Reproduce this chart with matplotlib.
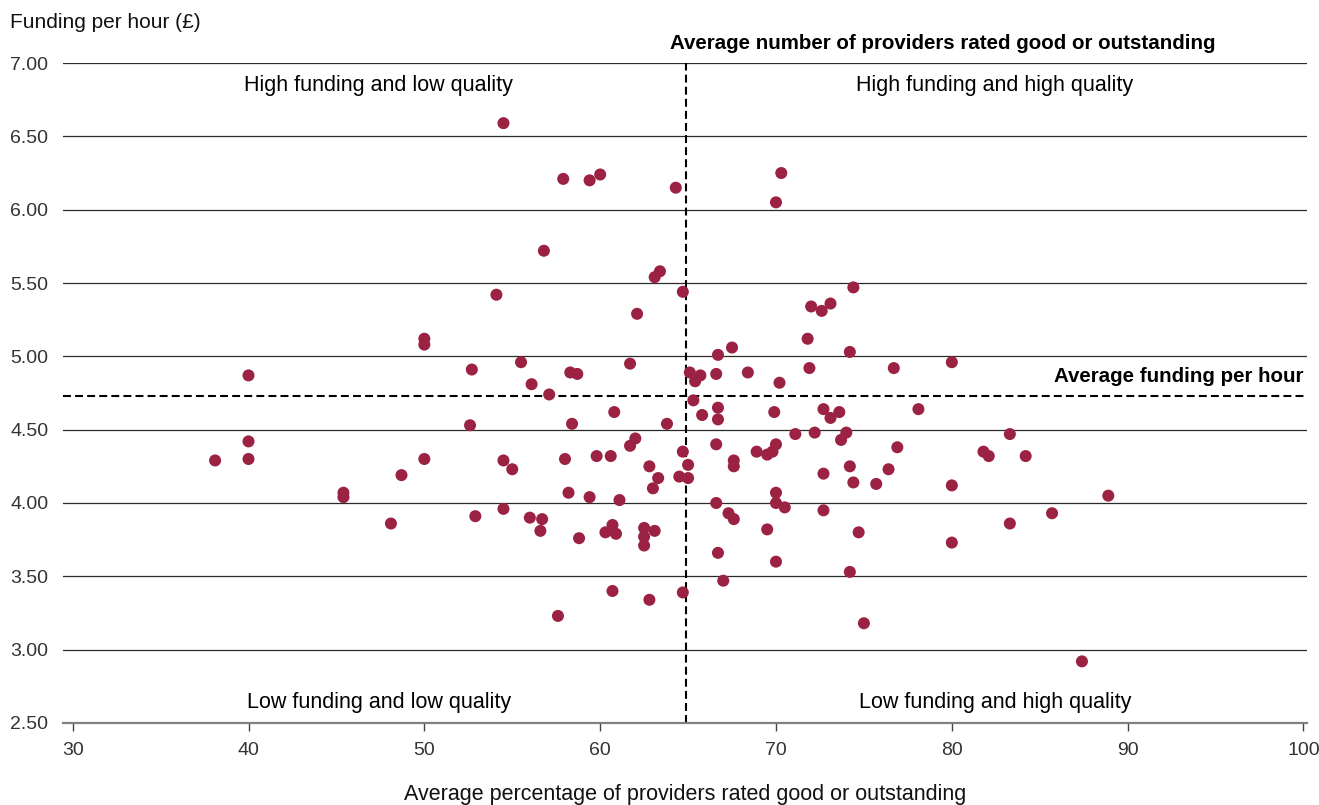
import matplotlib
matplotlib.use("Agg")
import matplotlib.pyplot as plt

plt.rcParams["font.family"] = ["Liberation Sans", "DejaVu Sans"]

# % of providers rated good or outstanding, funding per hour (GBP)
quality = [
    54.5, 57.9, 56.8, 54.1, 50.0, 50.0, 40.0, 52.7, 55.5, 56.1,
    57.1, 58.3, 58.7, 59.4, 60.0, 64.3, 70.3, 70.0, 63.1, 63.4,
    64.7, 62.1, 74.4, 72.0, 72.6, 73.1, 71.8, 74.2, 67.5, 66.7,
    61.7, 65.1, 65.7, 65.4, 66.6, 68.4, 70.2, 71.9, 76.7, 80.0,
    65.3, 60.8, 58.4, 63.8, 65.8, 66.7, 66.7, 69.9, 72.7, 73.1,
    73.6, 78.1, 62.0, 61.7, 58.0, 59.8, 60.6, 62.8, 63.3, 63.0,
    64.7, 65.0, 64.5, 65.0, 66.6, 67.6, 67.6, 68.9, 69.5, 69.8,
    70.0, 71.1, 72.2, 74.0, 73.7, 76.9, 76.4, 74.2, 74.4, 75.7,
    72.7, 80.0, 58.2, 59.4, 61.1, 70.0, 70.0, 70.5, 66.6, 67.3,
    67.6, 72.7, 69.5, 74.7, 80.0, 60.3, 60.7, 60.9, 62.5, 62.5,
    62.5, 63.1, 58.8, 66.7, 70.0, 74.2, 67.0, 60.7, 62.8, 64.7,
    57.6, 75.0, 52.6, 40.0, 38.1, 40.0, 50.0, 48.7, 54.5, 55.0,
    45.4, 45.4, 48.1, 52.9, 54.5, 56.0, 56.7, 56.6, 83.3, 81.8,
    82.1, 84.2, 88.9, 85.7, 83.3, 87.4,
]
funding = [
    6.59, 6.21, 5.72, 5.42, 5.12, 5.08, 4.87, 4.91, 4.96, 4.81,
    4.74, 4.89, 4.88, 6.20, 6.24, 6.15, 6.25, 6.05, 5.54, 5.58,
    5.44, 5.29, 5.47, 5.34, 5.31, 5.36, 5.12, 5.03, 5.06, 5.01,
    4.95, 4.89, 4.87, 4.83, 4.88, 4.89, 4.82, 4.92, 4.92, 4.96,
    4.70, 4.62, 4.54, 4.54, 4.60, 4.65, 4.57, 4.62, 4.64, 4.58,
    4.62, 4.64, 4.44, 4.39, 4.30, 4.32, 4.32, 4.25, 4.17, 4.10,
    4.35, 4.26, 4.18, 4.17, 4.40, 4.29, 4.25, 4.35, 4.33, 4.35,
    4.40, 4.47, 4.48, 4.48, 4.43, 4.38, 4.23, 4.25, 4.14, 4.13,
    4.20, 4.12, 4.07, 4.04, 4.02, 4.07, 4.00, 3.97, 4.00, 3.93,
    3.89, 3.95, 3.82, 3.80, 3.73, 3.80, 3.85, 3.79, 3.83, 3.77,
    3.71, 3.81, 3.76, 3.66, 3.60, 3.53, 3.47, 3.40, 3.34, 3.39,
    3.23, 3.18, 4.53, 4.42, 4.29, 4.30, 4.30, 4.19, 4.29, 4.23,
    4.07, 4.04, 3.86, 3.91, 3.96, 3.90, 3.89, 3.81, 4.47, 4.35,
    4.32, 4.32, 4.05, 3.93, 3.86, 2.92,
]

avg_quality = 64.9
avg_funding = 4.73

x_ticks = [30, 40, 50, 60, 70, 80, 90, 100]
y_ticks = [2.5, 3.0, 3.5, 4.0, 4.5, 5.0, 5.5, 6.0, 6.5, 7.0]

fig = plt.figure(figsize=(13.19, 8.05), dpi=100)
ax = fig.add_axes([63 / 1319, 0.1019, 1244 / 1319, 0.8198])

for yv in y_ticks[1:]:
    ax.axhline(yv, color="#2b2b2b", lw=0.9, zorder=1)

ax.scatter(quality, funding, s=75, color="#9b2242", edgecolors="none", zorder=3)

ax.axvline(avg_quality, color="black", lw=1.5, dashes=(3.8, 2.0), zorder=2)
ax.axhline(avg_funding, color="black", lw=1.5, dashes=(3.8, 2.0), zorder=2)

ax.set_xlim(29.45, 100.2)
ax.set_ylim(2.5, 7.0)
ax.set_xticks(x_ticks)
ax.set_yticks(y_ticks)
ax.set_yticklabels(["%.2f" % v for v in y_ticks])

for side in ["top", "right", "left"]:
    ax.spines[side].set_visible(False)
ax.spines["bottom"].set_color("#808080")
ax.spines["bottom"].set_linewidth(1.6)

ax.tick_params(axis="x", length=5.5, width=1, color="#444444", pad=8,
               labelsize=14, labelcolor="#333333")
ax.tick_params(axis="y", length=0, pad=10.5, labelsize=14, labelcolor="#333333")

ax.set_xlabel("Average percentage of providers rated good or outstanding",
              fontsize=15.5, labelpad=18, color="#111111")
fig.text(0.0075, 0.972, "Funding per hour (£)", fontsize=15,
         ha="left", va="center", color="#111111")

ax.text(47.4, 6.85, "High funding and low quality", fontsize=15.5,
        ha="center", va="center")
ax.text(82.45, 6.85, "High funding and high quality", fontsize=15.5,
        ha="center", va="center")
ax.text(47.4, 2.64, "Low funding and low quality", fontsize=15.5,
        ha="center", va="center")
ax.text(82.45, 2.64, "Low funding and high quality", fontsize=15.5,
        ha="center", va="center")

ax.text(64.0, 7.13, "Average number of providers rated good or outstanding",
        fontsize=14.8, fontweight="bold", ha="left", va="center",
        clip_on=False)
ax.text(100.0, 4.86, "Average funding per hour", fontsize=14.8,
        fontweight="bold", ha="right", va="center")

fig.savefig("out.png", dpi=100)
